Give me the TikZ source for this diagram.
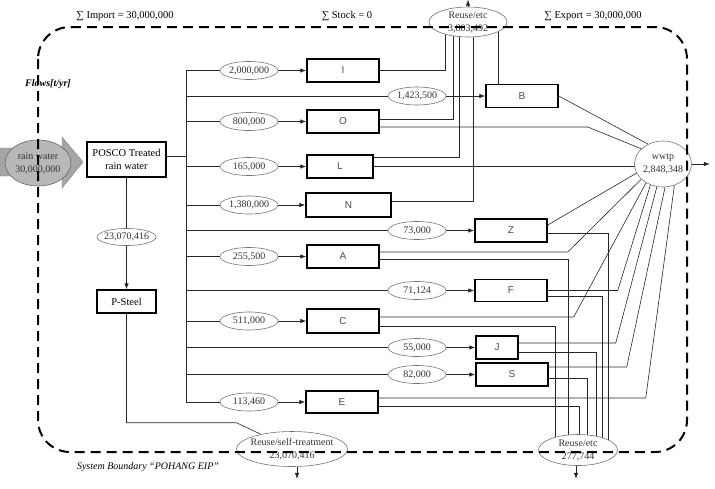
\documentclass[tikz,border=0pt]{standalone}
\usepackage{fontspec}
\setmainfont{Liberation Serif}
\newfontfamily\boxfont{Liberation Sans}
\usetikzlibrary{shapes.geometric,arrows.meta,backgrounds}

\begin{document}
\begin{tikzpicture}[x=1pt,y=-1pt,
  font=\fontsize{10.5}{13}\selectfont,
  box/.style={draw,fill=white,line width=1.5pt,inner sep=0pt,minimum width=72pt,minimum height=23pt,
    font=\boxfont\fontsize{10}{12}\selectfont,text=black!70},
  val/.style={ellipse,draw=black!55,line width=0.6pt,fill=white,inner sep=-2pt,
    minimum width=58pt,minimum height=18pt,font=\fontsize{10}{12}\selectfont,text=black!80},
  sink/.style={val,align=center,minimum width=78pt,minimum height=30pt,font=\fontsize{10}{13}\selectfont},
  flow/.style={line width=0.6pt,black!85},
  >={Latex[length=6pt,width=4.5pt]},
  boundary/.style={line width=2pt,dash pattern=on 10pt off 6pt,rounded corners=32pt}]
\useasboundingbox (0,0) rectangle (715,488);

% Inflow
\filldraw[fill=black!35,draw=black!50] (0,148) -- (62,148) -- (62,137) -- (83,162) -- (62,188) -- (62,176) -- (0,176) -- cycle;
\node[val,fill=black!28,draw=black!60,align=center,minimum width=66pt,minimum height=46pt,font=\fontsize{10}{13}\selectfont] (rain) at (38,163) {rain water\\30,000,000};

\node[box,font=\fontsize{10.5}{13}\selectfont,text=black,align=center,minimum width=79pt,minimum height=35pt] (posco) at (126.5,159.5) {POSCO Treated\\rain water};
\node[val,minimum width=59pt,minimum height=17pt] (v23) at (126.5,237) {23,070,416};
\node[box,font=\fontsize{10.5}{13}\selectfont,text=black,minimum width=59pt] (psteel) at (126.5,301.5) {P-Steel};

% Companies
\node[box] (I) at (343,70.5) {I};
\node[box] (O) at (343,121.5) {O};
\node[box,minimum width=66pt] (L) at (340,166.5) {L};
\node[box,minimum width=85pt,minimum height=24pt] (N) at (348.5,205) {N};
\node[box] (A) at (343,256.5) {A};
\node[box,minimum height=24pt] (C) at (343,321) {C};
\node[box,minimum height=22pt] (E) at (342,402) {E};
\node[box] (B) at (522,96) {B};
\node[box] (Z) at (511,230.5) {Z};
\node[box,minimum height=22pt] (F) at (511,290.5) {F};
\node[box,minimum width=42pt] (J) at (497,347.5) {J};
\node[box] (S) at (512,374.5) {S};

% Flow values
\node[val] (fI) at (249,70.5) {2,000,000};
\node[val] (fO) at (249,121.5) {800,000};
\node[val] (fL) at (249,166.5) {165,000};
\node[val] (fN) at (249,205) {1,380,000};
\node[val] (fA) at (249,256.5) {255,500};
\node[val] (fC) at (249,321) {511,000};
\node[val] (fE) at (249,402) {113,460};
\node[val] (fB) at (417,96) {1,423,500};
\node[val] (fZ) at (417,230.5) {73,000};
\node[val] (fF) at (417,290.5) {71,124};
\node[val] (fJ) at (417,347.5) {55,000};
\node[val] (fS) at (417,374.5) {82,000};

% Sinks
\node[sink] (reuseT) at (468,22) {Reuse/etc\\3,803,492};
\node[sink,minimum width=79pt,minimum height=31pt] (reuseB) at (578,450) {Reuse/etc\\277,744};
\node[sink,inner xsep=-14pt,minimum width=111pt,minimum height=35pt] (reuseS) at (292,449) {Reuse/self-treatment\\23,070,416};
\node[sink,minimum width=57pt,minimum height=46pt] (wwtp) at (663,164) {wwtp\\2,848,348};

\begin{scope}[on background layer]
% Trunk
\coordinate (top) at (186,70.5);
\coordinate (bot) at (186,402);
\coordinate (pout) at ([yshift=3.5pt]posco.east);
\draw[flow] (top) -- (bot);
\draw[flow] (pout) -- (pout -| top);
\draw[flow] (posco) -- (v23);
\draw[flow,->] (v23) -- (psteel);
\foreach \v/\b in {fI/I,fO/O,fL/L,fN/N,fA/A,fC/C,fE/E,fB/B,fZ/Z,fF/F,fJ/J,fS/S}{
  \draw[flow] (top |- \v) -- (\v);
  \draw[flow,->] (\v) -- (\b);
}

% To Reuse/etc (top)
\draw[flow] (I.east) -| ([xshift=-23pt]reuseT.center);
\draw[flow] ([yshift=2.5pt]O.east) -| ([xshift=-15pt]reuseT.center);
\draw[flow] ([yshift=9pt]L.east) -| ([xshift=-9pt]reuseT.center);
\draw[flow] ([yshift=4pt]N.east) -| ([xshift=5pt]reuseT.center);
\draw[flow] ([xshift=-24pt]B.north) -- ([xshift=30pt]reuseT.center);

% To wwtp
\draw[flow] (B.east) -- (wwtp.127);
\draw[flow] ([yshift=-5.5pt]O.east) -- ++(208,0) -- (wwtp.145);
\draw[flow] (L.east) -- (L.east -| wwtp.center);
\draw[flow] ([yshift=5.5pt]Z.east) -- (wwtp.199);
\draw[flow] ([yshift=4.5pt]A.east) -- ++(188,0) -- (wwtp.215);
\draw[flow] ([yshift=4pt]C.east) -- ++(194,0) -- (wwtp.228);
\draw[flow] (F.east) -- ++(70,0) -- (wwtp.239);
\draw[flow] ([yshift=4.5pt]J.east) -- ++(97,0) -- (wwtp.255);
\draw[flow] ([yshift=7.5pt]S.east) -- ++(78,0) -- (wwtp.275);
\draw[flow] ([yshift=4pt]E.east) -- ++(267,0) -- (wwtp.298);

% To Reuse/etc (bottom)
\draw[flow] ([yshift=-2.5pt]Z.east) -| ([xshift=30pt]reuseB.center);
\draw[flow] ([yshift=-2.5pt]A.east) -| ([xshift=-10pt]reuseB.center);
\draw[flow] ([yshift=-6pt]F.east) -| ([xshift=24pt]reuseB.center);
\draw[flow] ([yshift=-5pt]C.east) -| ([xshift=-23pt]reuseB.center);
\draw[flow] ([yshift=-4.5pt]J.east) -| ([xshift=18pt]reuseB.center);
\draw[flow] ([yshift=-3.5pt]S.east) -| ([xshift=9pt]reuseB.center);
\draw[flow] ([yshift=-4pt]E.east) -| ([xshift=1pt]reuseB.center);

\draw[flow] (psteel.south) -- ++(0,109) -- ++(110,0) -- (reuseS);

% Outflows
\draw[flow,->] (reuseT.north) -- ++(0,-7);
\draw[flow,->] (wwtp.east) -- ++(18,0);
\draw[flow,->] ([xshift=5pt]reuseS.south) -- ++(0,12);
\draw[flow,->] ([xshift=-2pt]reuseB.south) -- ++(0,13);
\end{scope}

% Boundary
\draw[boundary] (38,27) rectangle (687,452);

\node (imp) at (125,16) {∑ Import = 30,000,000};
\node (stk) at (347,16) {∑ Stock = 0};
\node (exp) at (593,16) {∑ Export = 30,000,000};
\node[font=\bfseries\itshape\fontsize{10}{12}\selectfont] (flows) at (48,84) {Flows[t/yr]};
\node[font=\itshape\fontsize{10}{12}\selectfont] (sysb) at (148,467) {System Boundary “POHANG EIP”};

\end{tikzpicture}
\end{document}
